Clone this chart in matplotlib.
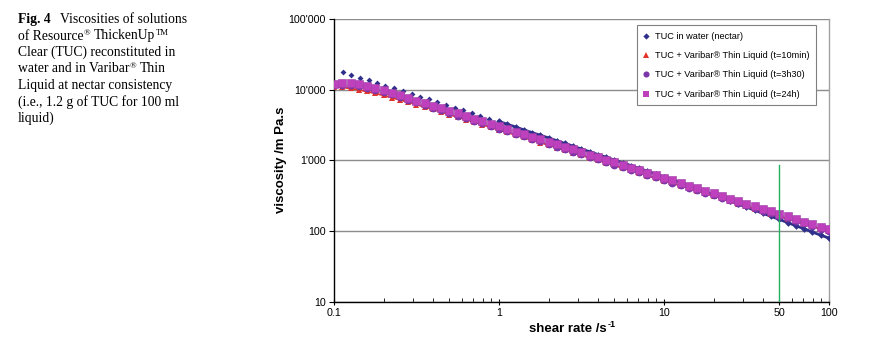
import numpy as np
import matplotlib
matplotlib.use("Agg")
import matplotlib.pyplot as plt
from matplotlib.lines import Line2D
from matplotlib.ticker import FixedLocator, NullLocator, NullFormatter

plt.rcParams["font.family"] = "Liberation Sans"

# shear rate grid (1/s) used by the Varibar measurements
shear_rate = [0.100, 0.112, 0.126, 0.141, 0.158, 0.178, 0.200, 0.224, 0.251, 0.282,
              0.316, 0.355, 0.398, 0.447, 0.501, 0.562, 0.631, 0.708, 0.794, 0.891,
              1.00, 1.12, 1.26, 1.41, 1.58, 1.78, 2.00, 2.24, 2.51, 2.82,
              3.16, 3.55, 3.98, 4.47, 5.01, 5.62, 6.31, 7.08, 7.94, 8.91,
              10.0, 11.2, 12.6, 14.1, 15.8, 17.8, 20.0, 22.4, 25.1, 28.2,
              31.6, 35.5, 39.8, 44.7, 50.1, 56.2, 63.1, 70.8, 79.4, 89.1,
              100.0]

# viscosities (mPa.s)
visc_10min = [11000, 10800, 10400, 9950, 9420, 8850, 8280, 7710, 7160, 6640,
              6140, 5680, 5240, 4820, 4440, 4080, 3760, 3460, 3180, 2930,
              2700, 2480, 2290, 2100, 1940, 1780, 1640, 1510, 1390, 1280,
              1180, 1080, 998, 918, 845, 778, 716, 659, 607, 558,
              514, 473, 436, 401, 369, 340, 313, 288, 265, 244,
              224, 207, 190, 175, 161, 148, 136, 126, 116, 106,
              98]
visc_3h30 = [11500, 11800, 11700, 11300, 10700, 10000, 9300, 8550, 7850, 7200,
             6600, 6050, 5550, 5100, 4680, 4300, 3950, 3630, 3330, 3060,
             2810, 2590, 2380, 2190, 2010, 1850, 1700, 1560, 1440, 1320,
             1215, 1117, 1027, 945, 869, 800, 735, 676, 622, 572,
             526, 484, 445, 410, 377, 347, 319, 293, 270, 248,
             229, 210, 193, 178, 164, 151, 139, 128, 118, 108,
             100]
visc_24h = [12000, 12400, 12300, 11900, 11300, 10600, 9820, 9060, 8320, 7640,
            7010, 6440, 5920, 5450, 5000, 4600, 4230, 3890, 3570, 3290,
            3020, 2780, 2550, 2350, 2160, 1990, 1820, 1680, 1540, 1420,
            1300, 1200, 1100, 1010, 931, 857, 787, 724, 665, 612,
            562, 518, 475, 438, 402, 370, 340, 313, 287, 264,
            243, 223, 205, 189, 173, 160, 147, 135, 124, 114,
            105]

# TUC in water: coarse points at low shear, then the dense sweep
water_rate_low = [0.113, 0.127, 0.143, 0.162, 0.182, 0.205, 0.232, 0.261, 0.295, 0.332,
                  0.375, 0.423, 0.477, 0.538, 0.607, 0.685, 0.772, 0.871]
visc_water_low = [17700, 16200, 14800, 13600, 12400, 11300, 10400, 9480, 8670, 7940,
                  7260, 6640, 6080, 5560, 5080, 4650, 4260, 3890]
water_rate_high = shear_rate[20:]
visc_water_high = [3540, 3240, 2960, 2700, 2470, 2260, 2070, 1890, 1730, 1580,
                   1440, 1320, 1205, 1100, 1007, 920, 841, 767, 700, 638,
                   582, 530, 482, 439, 398, 360, 325, 294, 265, 240,
                   217, 196, 177, 160, 145, 131, 118, 107, 96, 87,
                   79]

marker_line_x = [50, 50]
marker_line_y = [10, 850]

labels = ["TUC in water (nectar)",
          "TUC + Varibar\u00ae Thin Liquid (t=10min)",
          "TUC + Varibar\u00ae Thin Liquid (t=3h30)",
          "TUC + Varibar\u00ae Thin Liquid (t=24h)"]
colors = ["#2F2F8C", "#E3342B", "#7A35A8", "#BE40BC"]
markers = ["D", "^", "o", "s"]

x_ticks = [0.1, 1, 10, 50, 100]
x_ticklabels = ["0.1", "1", "10", "50", "100"]
y_ticks = [10, 100, 1000, 10000, 100000]
y_ticklabels = ["10", "100", "1'000", "10'000", "100'000"]

# caption lines as (text, style, gap_before_px); style: b = bold, n = normal, s = superscript
caption = [[("Fig. 4", "b", 0), ("Viscosities of solutions", "n", 9)],
           [("of Resource", "n", 0), ("\u00ae", "s", 0.5), ("ThickenUp", "n", 3.5), ("TM", "s", 0.5)],
           [("Clear (TUC) reconstituted in", "n", 0)],
           [("water and in Varibar", "n", 0), ("\u00ae", "s", 0.5), ("Thin", "n", 3.5)],
           [("Liquid at nectar consistency", "n", 0)],
           [("(i.e., 1.2 g of TUC for 100 ml", "n", 0)],
           [("liquid)", "n", 0)]]

W, H = 879, 355
fig = plt.figure(figsize=(W / 100, H / 100), dpi=100)
ax = fig.add_axes([334 / W, 1 - 301.5 / H, (829 - 334) / W, (301.5 - 19) / H])

ax.plot(water_rate_low, visc_water_low, linestyle="none", marker="D", markersize=3.0,
        color=colors[0], markeredgewidth=0, zorder=3)
ax.plot(water_rate_high, visc_water_high, linestyle="-", linewidth=2.0, marker="D",
        markersize=3.4, color=colors[0], markeredgewidth=0, zorder=3)
ax.plot(shear_rate, visc_10min, linestyle="-", linewidth=1.4, marker="^", markersize=4.2,
        color=colors[1], markeredgewidth=0, zorder=4)
ax.plot(shear_rate, visc_3h30, linestyle="none", marker="o", markersize=5.6,
        color=colors[2], markeredgewidth=0, zorder=5)
ax.plot(shear_rate, visc_24h, linestyle="none", marker="s", markersize=5.6,
        color=colors[3], markeredgecolor="#9C3CA6", markeredgewidth=0.4, zorder=6)
ax.plot(marker_line_x, marker_line_y, color="#22B060", linewidth=1.0, zorder=7)

ax.set_xscale("log")
ax.set_yscale("log")
ax.set_xlim(0.1, 100)
ax.set_ylim(10, 100000)

ax.xaxis.set_major_locator(FixedLocator(x_ticks))
ax.set_xticklabels(x_ticklabels)
ax.xaxis.set_minor_locator(FixedLocator([m * d for d in (0.1, 1, 10) for m in range(2, 10)]))
ax.xaxis.set_minor_formatter(NullFormatter())
ax.yaxis.set_major_locator(FixedLocator(y_ticks))
ax.set_yticklabels(y_ticklabels)
ax.yaxis.set_minor_locator(NullLocator())

ax.tick_params(axis="x", which="major", direction="inout", length=5, width=0.8,
               labelsize=7.7, pad=2)
ax.tick_params(axis="x", which="minor", direction="in", length=3, width=0.6)
ax.tick_params(axis="y", which="major", direction="out", length=3.5, width=0.8,
               labelsize=7.7, pad=2.5)

ax.grid(True, axis="y", which="major", color="#8C8C8C", linewidth=1.0)
ax.set_axisbelow(True)
for side in ("left", "bottom"):
    ax.spines[side].set_color("black")
    ax.spines[side].set_linewidth(1.0)
ax.spines["top"].set_visible(False)
ax.spines["right"].set_color("#A0A0A0")
ax.spines["right"].set_linewidth(1.0)

ax.set_ylabel("viscosity /m Pa.s", fontsize=9.5, fontweight="bold", labelpad=1)

handles = [Line2D([], [], linestyle="none", marker=m, color=c, markersize=ms,
                  markeredgewidth=0)
           for m, c, ms in zip(markers, colors, [3.2, 4.2, 4.4, 4.2])]
leg = ax.legend(handles, labels, loc="upper right", bbox_to_anchor=(816 / W, 1 - 25.5 / H),
                bbox_transform=fig.transFigure, fontsize=6.6, frameon=True,
                fancybox=False, edgecolor="#808080", framealpha=1,
                handlelength=0.7, handletextpad=0.6, labelspacing=1.12,
                borderpad=0.7, borderaxespad=0)
leg.get_frame().set_linewidth(0.8)

renderer = fig.canvas.get_renderer()

# x axis label with a small superscript
xl = fig.text(529 / W, 1 - 332 / H, "shear rate /s", fontsize=9.5, fontweight="bold",
              va="baseline", ha="left")
xl_end = 529 + xl.get_window_extent(renderer).width
fig.text((xl_end + 0.5) / W, 1 - 327 / H, "-1", fontsize=6.5, fontweight="bold",
         va="baseline", ha="left")

# caption, built segment by segment so superscripts sit right after their word
for i, line in enumerate(caption):
    x_px = 18
    base_y = 23 + 16.5 * i
    for text, style, gap in line:
        x_px += gap
        if style == "s":
            t = fig.text(x_px / W, 1 - (base_y - 4.5) / H, text, fontsize=6.3,
                         family="Liberation Serif", va="baseline", ha="left")
        else:
            t = fig.text(x_px / W, 1 - base_y / H, text, fontsize=9.8,
                         family="Liberation Serif", va="baseline", ha="left",
                         fontweight="bold" if style == "b" else "normal")
        x_px += t.get_window_extent(renderer).width

fig.savefig("out.png", dpi=100)
